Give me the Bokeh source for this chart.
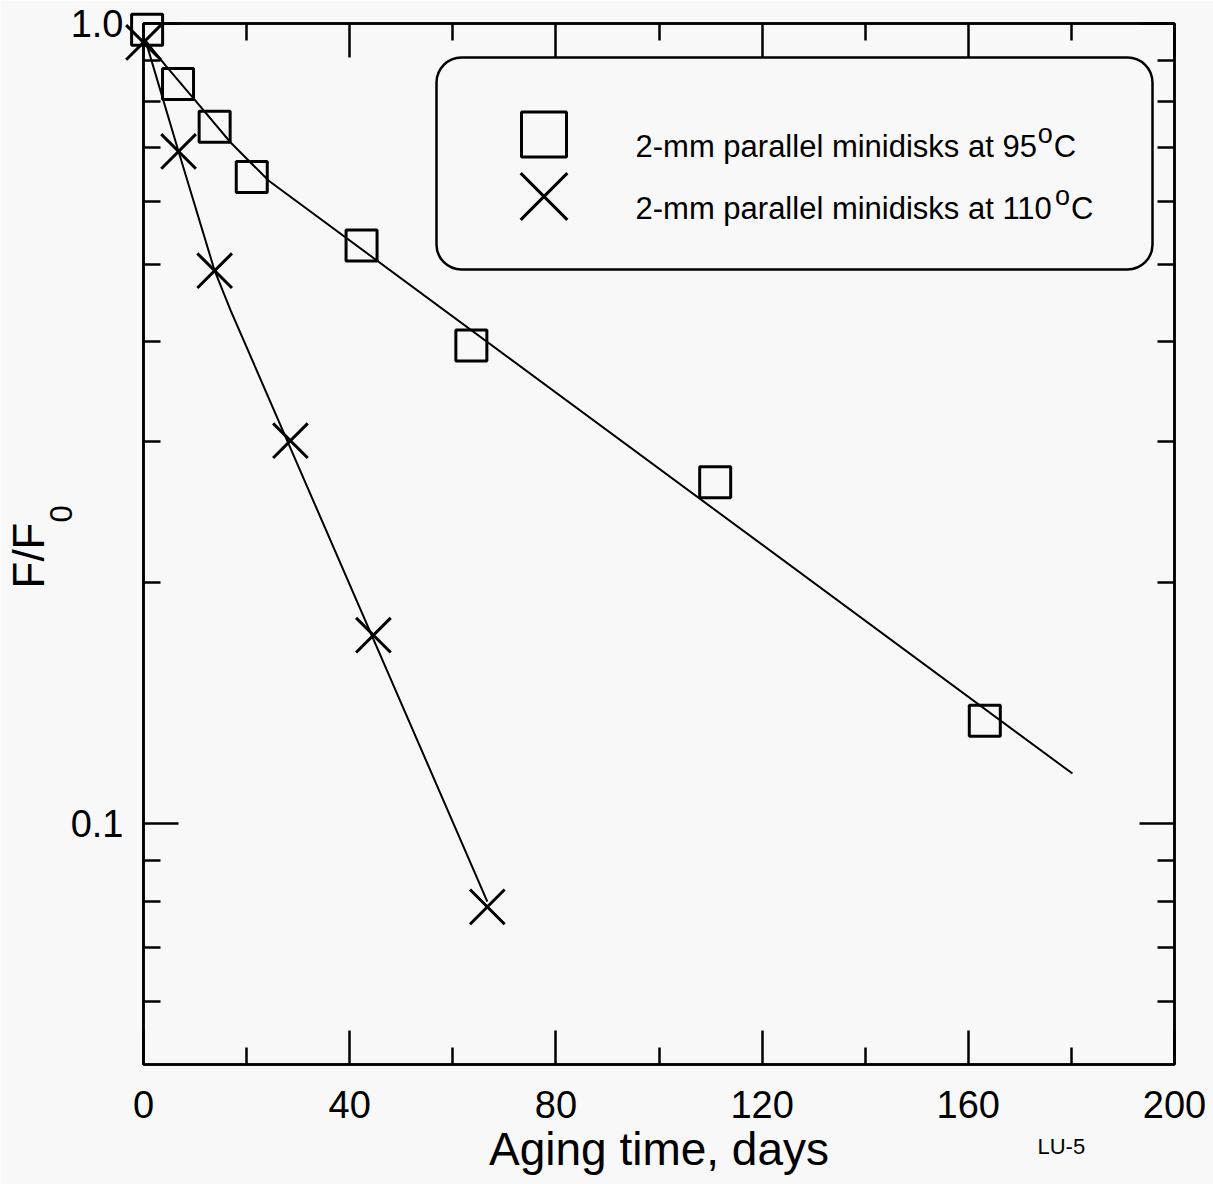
import math
from bokeh.plotting import figure
from bokeh.models import (Range1d, FixedTicker, LinearAxis, LogAxis,
                          CustomJSTickFormatter, BoxAnnotation, Title)
from bokeh.core.properties import value
from bokeh.embed import file_html
from bokeh.resources import INLINE

# ---------------- data ----------------
days_95 = [0.7, 6.7, 13.8, 21.0, 42.3, 63.6, 110.9, 163.2]
ff0_95 = [0.982, 0.840, 0.743, 0.643, 0.528, 0.396, 0.267, 0.1345]

days_110 = [0.0, 6.8, 13.8, 28.5, 44.6, 66.7]
ff0_110 = [0.947, 0.692, 0.491, 0.301, 0.172, 0.0787]

fit_days_95 = [0.4, 4.3, 9.7, 16.9, 24.3, 180.2]
fit_ff0_95 = [0.952, 0.886, 0.806, 0.710, 0.636, 0.1155]

fit_days_110 = [0.4, 6.8, 13.8, 16.9, 66.7]
fit_ff0_110 = [0.952, 0.692, 0.491, 0.438, 0.0799]

x_major = [0, 40, 80, 120, 160, 200]
x_minor = [20, 60, 100, 140, 180]
y_major = [0.1, 1.0]
y_minor = [0.06, 0.07, 0.08, 0.09, 0.2, 0.3, 0.4, 0.5, 0.6, 0.7, 0.8, 0.9]

legend_labels = ["2-mm parallel minidisks at 95", "2-mm parallel minidisks at 110"]
degree_sup = "o"
degree_unit = "C"
x_title = "Aging time, days"
y_title_main = "F/F"
y_title_sub = "0"
figure_id = "LU-5"

# ---------------- layout ----------------
W, H = 1213, 1184
FL, FR, FT, FB = 143, 1174, 23, 1064
X0, X1 = 0, 200
Y0, Y1 = 0.05, 1.0
FONT = "Liberation Sans"
BG = "#f8f8f8"


def dx(px):
    return X0 + (px - FL) / (FR - FL) * (X1 - X0)


def dy(py):
    l1, l0 = math.log10(Y1), math.log10(Y0)
    return 10 ** (l1 - (py - FT) / (FB - FT) * (l1 - l0))


# Arial / Liberation Sans advance widths (per 1000 em)
AW = {' ': 278, '-': 333, 'a': 556, 'C': 722, 'd': 556, 'e': 556, 'i': 222,
      'k': 500, 'l': 222, 'm': 833, 'n': 556, 'o': 556, 'p': 556, 'r': 333,
      's': 500, 't': 278}
for _c in "0123456789":
    AW[_c] = 556


def tw(s, size):
    return sum(AW.get(c, 556) for c in s) / 1000.0 * size


p = figure(width=W, height=H, x_range=Range1d(X0, X1), y_range=Range1d(Y0, Y1),
           y_axis_type="log", output_backend="svg", toolbar_location=None)
p.min_border_left = FL
p.min_border_right = W - FR
p.min_border_top = FT
p.min_border_bottom = H - FB
p.background_fill_color = BG
p.border_fill_color = BG
p.outline_line_color = "black"
p.outline_line_width = 2.5
p.xgrid.visible = False
p.ygrid.visible = False


def style_axis(ax, maj_in, min_in):
    ax.major_tick_in = maj_in
    ax.major_tick_out = 0
    ax.minor_tick_in = min_in
    ax.minor_tick_out = 0
    ax.major_tick_line_width = 2.5
    ax.minor_tick_line_width = 2.5
    ax.major_tick_line_color = "black"
    ax.minor_tick_line_color = "black"
    ax.axis_line_width = 2.5
    ax.axis_line_color = "black"


xb = p.xaxis[0]
xb.ticker = FixedTicker(ticks=x_major, minor_ticks=x_minor)
style_axis(xb, 34, 17)
xb.major_label_text_font = FONT
xb.major_label_text_font_size = "38px"
xb.major_label_text_color = "black"
xb.major_label_standoff = 26
xb.axis_label = x_title
xb.axis_label_text_font = FONT
xb.axis_label_text_font_size = "46px"
xb.axis_label_text_font_style = "normal"
xb.axis_label_text_color = "black"
xb.axis_label_standoff = 2

yl = p.yaxis[0]
yl.ticker = FixedTicker(ticks=y_major, minor_ticks=y_minor)
yl.formatter = CustomJSTickFormatter(code="return tick.toFixed(1);")
style_axis(yl, 35, 17)
yl.major_label_text_font = FONT
yl.major_label_text_font_size = "38px"
yl.major_label_text_color = "black"
yl.major_label_standoff = 20

xt = LinearAxis(ticker=FixedTicker(ticks=x_major, minor_ticks=x_minor),
                major_label_text_font_size="0px", major_label_text_color=None,
                major_label_standoff=0)
style_axis(xt, 34, 17)
p.add_layout(xt, "above")

yr = LogAxis(ticker=FixedTicker(ticks=y_major, minor_ticks=y_minor),
             major_label_text_font_size="0px", major_label_text_color=None,
             major_label_standoff=0)
style_axis(yr, 35, 17)
p.add_layout(yr, "right")

# ---------------- y title (F/F with subscript 0) as side titles ----------------
t_sub = Title(text=y_title_sub, align="left", offset=FB - 522, vertical_align="bottom",
              standoff=-8, text_font=FONT, text_font_size="31px",
              text_font_style="normal", text_color="black")
p.add_layout(t_sub, "left")
t_main = Title(text=y_title_main, align="left", offset=FB - 588, vertical_align="bottom",
               standoff=-3, text_font=FONT, text_font_size="44px",
               text_font_style="normal", text_color="black")
p.add_layout(t_main, "left")

# figure id under the axis, at the right
t_id = Title(text=figure_id, align="left", offset=1037 - FL, vertical_align="top",
             standoff=-87, text_font=FONT, text_font_size="22px",
             text_font_style="normal", text_color="black")
p.add_layout(t_id, "below")

# ---------------- data marks ----------------
p.line(fit_days_95, fit_ff0_95, line_color="black", line_width=2)
p.line(fit_days_110, fit_ff0_110, line_color="black", line_width=2)
p.scatter(days_95, ff0_95, marker="square", size=31, fill_color=None,
          line_color="black", line_width=3, level="overlay")
p.scatter(days_110, ff0_110, marker="x", size=49, line_color="black", line_width=3,
          level="overlay")

# ---------------- legend ----------------
box = BoxAnnotation(left=dx(436), right=dx(1152), top=dy(57), bottom=dy(269),
                    fill_color=None, fill_alpha=0, line_color="black", line_alpha=1.0,
                    line_width=2.5, border_radius=25)
p.add_layout(box)

p.scatter([dx(543.5)], [dy(134)], marker="square", size=45, fill_color=None,
          line_color="black", line_width=3)
p.scatter([dx(543.5)], [dy(196)], marker="x", size=66, line_color="black", line_width=3)

TXT_X = 635
base_y = [146, 208]
main_size, sup_size = 31, 27
tx, ty, tt, tsz = [], [], [], []
for lab, by in zip(legend_labels, base_y):
    x_o = TXT_X + tw(lab, main_size) + 1
    x_c = x_o + tw(degree_sup, sup_size) + 1
    tx += [dx(TXT_X), dx(x_o), dx(x_c)]
    ty += [dy(by), dy(by - 13), dy(by)]
    tt += [lab, degree_sup, degree_unit]
    tsz += ["%dpx" % main_size, "%dpx" % sup_size, "%dpx" % main_size]
p.text(x=tx, y=ty, text=tt, text_font=value(FONT), text_font_size=tsz,
       text_color="black", text_align="left", text_baseline="alphabetic")

open("out.html", "w").write(file_html(p, INLINE))
